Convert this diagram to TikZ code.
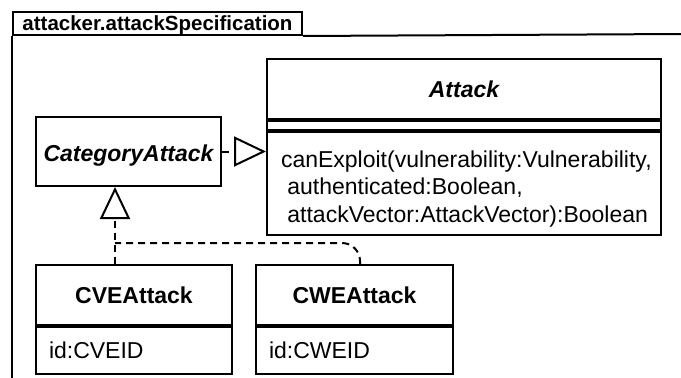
\documentclass[tikz,border=0pt]{standalone}
\usepackage{fontspec}
\setmainfont{Liberation Sans}
\usetikzlibrary{arrows.meta,positioning}

\begin{document}
\begin{tikzpicture}[x=1pt,y=-1pt,line width=2pt,
	clsbox/.style={draw,rectangle,inner sep=0pt,anchor=north west},
	namefont/.style={font=\fontsize{23}{27.5}\selectfont\bfseries,text depth=0pt},
	textfont/.style={font=\fontsize{23}{27.5}\selectfont},
	realize/.style={dash pattern=on 7pt off 5pt,-{Triangle[open,length=32pt,width=30pt]}},
	dashline/.style={dash pattern=on 7pt off 5pt}]
	\useasboundingbox (0,0) rectangle (681,378);
	
	% package frame
	\node[clsbox,minimum width=289pt,minimum height=23pt,
	font=\fontsize{20.5}{24}\selectfont\bfseries,text depth=0pt] (pkg) at (12,11) {attacker.attackSpecification};
	\draw (pkg.south west) -- (12,378);
	\draw (pkg.south east) -- (681,34);
	
	% Attack
	\node[clsbox,namefont,font=\fontsize{23}{27.5}\selectfont\bfseries\itshape,
	minimum width=394pt,minimum height=60pt] (attack) at (266,58) {Attack};
	\node[clsbox,minimum width=394pt,minimum height=9pt] (attackattr) at (attack.south west) {};
	\node[clsbox,minimum width=394pt,minimum height=103pt] (attackops) at (attackattr.south west) {};
	\node[textfont,align=left,anchor=base west,inner sep=0pt] (opstext) at (280,222)
	{canExploit(vulnerability:Vulnerability,\\ \ authenticated:Boolean,\\ \ attackVector:AttackVector):Boolean};
	
	% CategoryAttack
	\node[clsbox,namefont,font=\fontsize{23}{27.5}\selectfont\bfseries\itshape,
	minimum width=185pt,minimum height=69pt,text height=19pt] (cat) at (35,116) {CategoryAttack};
	
	% CVEAttack
	\node[clsbox,namefont,minimum width=196pt,minimum height=60pt] (cve) at (35,264) {CVEAttack};
	\node[clsbox,textfont,minimum width=196pt,minimum height=47pt,text width=170pt,
	inner xsep=13pt,align=left,text depth=0pt] (cveattr) at (cve.south west) {id:CVEID};
	
	% CWEAttack
	\node[clsbox,namefont,minimum width=197pt,minimum height=60pt] (cwe) at (255,264) {CWEAttack};
	\node[clsbox,textfont,minimum width=197pt,minimum height=47pt,text width=171pt,
	inner xsep=13pt,align=left,text depth=0pt] (cweattr) at (cwe.south west) {id:CWEID};
	
	% realizations
	\coordinate (join) at (115,243);
	\coordinate (cweup) at (360,264);
	\draw[realize] (cat.east) -- (cat.east -| attackops.west);
	\draw[realize] (cve.north -| join) -- (cat.south -| join);
	\draw[dashline,rounded corners=18pt] (cweup) |- (join);
\end{tikzpicture}
\end{document}
